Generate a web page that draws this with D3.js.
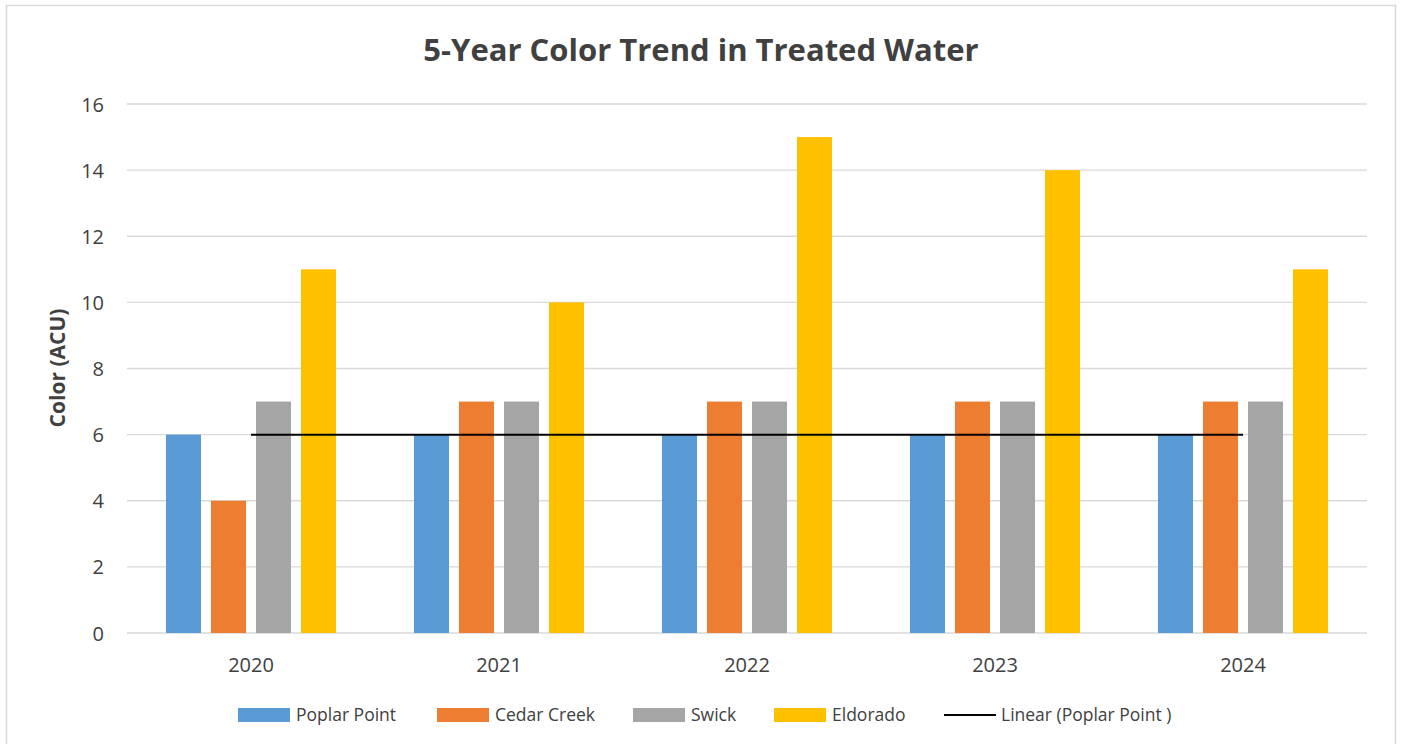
<!DOCTYPE html>
<html><head><meta charset="utf-8">
<script src="https://cdn.jsdelivr.net/npm/d3@7"></script>
<style>html,body{margin:0;padding:0;background:#fff;overflow:hidden}</style>
</head><body>
<svg id="chart" width="1401" height="744"></svg>
<script>
const years = ["2020","2021","2022","2023","2024"];
const seriesNames = ["Poplar Point","Cedar Creek","Swick","Eldorado"];
const poplarPoint = [6,6,6,6,6];
const cedarCreek = [4,7,7,7,7];
const swick = [7,7,7,7,7];
const eldorado = [11,10,15,14,11];
const yTicks = [0,2,4,6,8,10,12,14,16];
const colors = ["#5B9BD5","#ED7D31","#A5A5A5","#FFC000"];
const trendLabel = "Linear (Poplar Point )";

(function(){
const seriesValues = [poplarPoint, cedarCreek, swick, eldorado];
const font = "'Open Sans', 'Noto Sans', sans-serif";
const svg = d3.select("#chart");

svg.append("rect").attr("x",6.5).attr("y",5.5).attr("width",1389).attr("height",760)
  .attr("fill","#fff").attr("stroke","#d9d9d9").attr("stroke-width",1.5);

const pLeft = 127, pRight = 1367, pTop = 104, pBottom = 633;
const x0 = d3.scaleBand().domain(years).range([pLeft,pRight]).padding(0);
const x1 = d3.scaleBand().domain(seriesNames).range([0,x0.bandwidth()])
  .paddingInner(10/45).paddingOuter(39/45);
const y = d3.scaleLinear().domain([0,16]).range([pBottom,pTop]);

svg.append("g").selectAll("line").data(yTicks).join("line")
  .attr("x1",pLeft).attr("x2",pRight)
  .attr("y1",d=>y(d)).attr("y2",d=>y(d))
  .attr("stroke","#d9d9d9").attr("stroke-width",1.3);

const yAxis = d3.axisLeft(y).tickValues(yTicks).tickSize(0).tickPadding(0);
const gy = svg.append("g").attr("transform",`translate(${pLeft-23},0)`).call(yAxis);
gy.select(".domain").remove();
gy.selectAll("text").attr("font-family",font).attr("font-size",20).attr("fill","#404040").attr("dy","0.35em");

const gBars = svg.append("g");
years.forEach((yr,i)=>{
  seriesNames.forEach((s,j)=>{
    gBars.append("rect")
      .attr("x",x0(yr)+x1(s)).attr("width",x1.bandwidth())
      .attr("y",y(seriesValues[j][i])).attr("height",y(0)-y(seriesValues[j][i]))
      .attr("fill",colors[j]);
  });
});

const n = poplarPoint.length;
const xs = d3.range(1,n+1);
const mx = d3.mean(xs), my = d3.mean(poplarPoint);
const slope = d3.sum(xs.map((xv,k)=>(xv-mx)*(poplarPoint[k]-my))) / d3.sum(xs.map(xv=>(xv-mx)**2));
const intercept = my - slope*mx;
const trendPts = years.map((yr,k)=>[x0(yr)+x0.bandwidth()/2, y(intercept+slope*(k+1))]);
svg.append("path").attr("d",d3.line()(trendPts)).attr("stroke","#000").attr("stroke-width",2).attr("fill","none");

const xAxis = d3.axisBottom(x0).tickSize(0).tickPadding(0);
const gx = svg.append("g").attr("transform",`translate(0,${pBottom})`).call(xAxis);
gx.select(".domain").remove();
gx.selectAll("text").attr("font-family",font).attr("font-size",20).attr("fill","#404040")
  .attr("dy",null).attr("y",39);

svg.append("text").attr("x",701).attr("y",61).attr("text-anchor","middle")
  .attr("font-family",font).attr("font-weight","bold").attr("font-size",31).attr("fill","#404040")
  .text("5-Year Color Trend in Treated Water");

svg.append("text").attr("transform",`translate(65,368) rotate(-90)`).attr("text-anchor","middle")
  .attr("font-family",font).attr("font-weight","bold").attr("font-size",21).attr("fill","#404040")
  .text("Color (ACU)");

const legendItems = [
  {label:seriesNames[0], color:colors[0], x:238},
  {label:seriesNames[1], color:colors[1], x:437},
  {label:seriesNames[2], color:colors[2], x:633},
  {label:seriesNames[3], color:colors[3], x:774},
];
const lg = svg.append("g");
legendItems.forEach(it=>{
  lg.append("rect").attr("x",it.x).attr("y",708).attr("width",52).attr("height",14).attr("fill",it.color);
  lg.append("text").attr("x",it.x+58).attr("y",721).attr("font-family",font).attr("font-size",17.5)
    .attr("fill","#404040").text(it.label);
});
lg.append("line").attr("x1",944).attr("x2",996).attr("y1",715).attr("y2",715).attr("stroke","#000").attr("stroke-width",2);
lg.append("text").attr("x",1001).attr("y",721).attr("font-family",font).attr("font-size",17.5)
  .attr("fill","#404040").text(trendLabel);
})();
</script>
</body></html>
